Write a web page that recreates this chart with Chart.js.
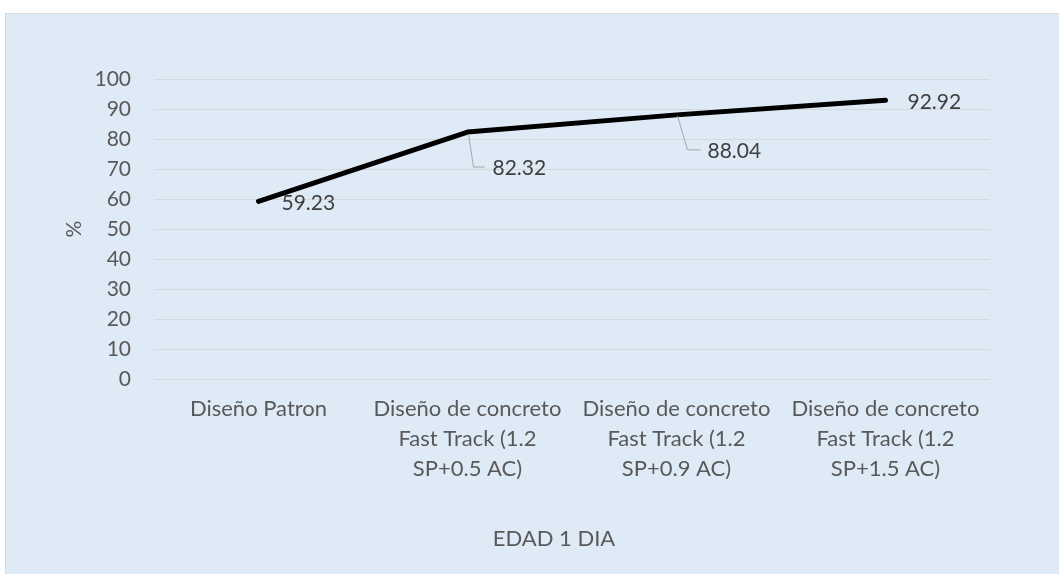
<!DOCTYPE html>
<html><head><meta charset="utf-8">
<script src="https://cdn.jsdelivr.net/npm/chart.js@4.4.1/dist/chart.umd.min.js"></script>
<style>html,body{margin:0;padding:0;background:#fff}#wrap{width:1059px;height:574px;position:relative}</style>
</head><body><div id="wrap"><canvas id="c" width="1059" height="574"></canvas></div>
<script>
const categories = [
  ["Diseño Patron"],
  ["Diseño de concreto", "Fast Track (1.2", "SP+0.5 AC)"],
  ["Diseño de concreto", "Fast Track (1.2", "SP+0.9 AC)"],
  ["Diseño de concreto", "Fast Track (1.2", "SP+1.5 AC)"]
];
const values = [59.23, 82.32, 88.04, 92.92];
const labelTexts = ["59.23", "82.32", "88.04", "92.92"];
const yTitle = "%";
const xTitle = "EDAD 1 DIA";

const FONT = "Lato, 'Open Sans', sans-serif";
const TXT = "#595959";
const FS = 21;
const FS_CAT = 22;

// label placement relative to the point: text left offset dx, center dy; leader polyline
const labelLayout = [
  {dx: 23, dy: 1.5},
  {dx: 25, dy: 36, leader: [[1, 2], [6, 35], [17, 35]]},
  {dx: 31, dy: 36, leader: [[1, 1], [11, 35], [24, 35]]},
  {dx: 22, dy: 1.5}
];

const bgPlugin = {
  id: 'bg',
  beforeDraw(chart) {
    const ctx = chart.ctx;
    ctx.save();
    ctx.fillStyle = '#ffffff';
    ctx.fillRect(0, 0, chart.width, chart.height);
    ctx.fillStyle = '#DEEAF6';
    ctx.fillRect(5, 13, chart.width - 5, chart.height - 13);
    ctx.strokeStyle = '#D9D9D9';
    ctx.lineWidth = 1;
    ctx.beginPath();
    ctx.moveTo(5.5, chart.height);
    ctx.lineTo(5.5, 13.5);
    ctx.lineTo(chart.width, 13.5);
    ctx.stroke();
    ctx.restore();
  }
};

const labelPlugin = {
  id: 'dlabels',
  afterDatasetsDraw(chart) {
    const ctx = chart.ctx;
    const meta = chart.getDatasetMeta(0);
    ctx.save();
    ctx.font = FS + "px " + FONT;
    ctx.fillStyle = "#404040";
    ctx.textBaseline = "middle";
    ctx.textAlign = "left";
    meta.data.forEach((pt, i) => {
      const L = labelLayout[i];
      if (L.leader) {
        ctx.strokeStyle = "#A6A6A6";
        ctx.lineWidth = 1;
        ctx.beginPath();
        L.leader.forEach((p, k) => {
          const x = pt.x + p[0], y = pt.y + p[1];
          if (k === 0) ctx.moveTo(x, y); else ctx.lineTo(x, y);
        });
        ctx.stroke();
      }
      ctx.fillText(labelTexts[i], pt.x + L.dx, pt.y + L.dy);
    });
    // x axis title
    ctx.font = FS_CAT + "px " + FONT;
    ctx.fillStyle = TXT;
    ctx.textAlign = "center";
    ctx.fillText(xTitle, 554, 539);
    ctx.restore();
  }
};

new Chart(document.getElementById('c'), {
  type: 'line',
  data: {
    labels: categories,
    datasets: [{
      data: values,
      borderColor: '#000000',
      borderWidth: 5,
      borderCapStyle: 'round',
      borderJoinStyle: 'round',
      pointRadius: 0,
      tension: 0,
      fill: false
    }]
  },
  options: {
    responsive: false,
    animation: false,
    events: [],
    layout: {padding: {left: 60, right: 69, top: 79, bottom: 24}},
    plugins: {legend: {display: false}, tooltip: {enabled: false}},
    scales: {
      x: {
        offset: true,
        grid: {display: false, drawTicks: false},
        border: {display: false},
        ticks: {color: TXT, font: {family: FONT, size: FS_CAT, lineHeight: 1.36}, padding: 15, maxRotation: 0, autoSkip: false},
        title: {display: false},
        afterFit(s) { s.height = 574 - 24 - 379; }
      },
      y: {
        min: 0, max: 100,
        grid: {color: '#D6D9DC', lineWidth: 1, drawTicks: false},
        border: {display: false},
        ticks: {stepSize: 10, color: TXT, font: {family: FONT, size: FS}, padding: 23},
        title: {display: true, text: yTitle, color: TXT, font: {family: FONT, size: FS}, padding: {top: 2, bottom: 0}},
        afterFit(s) { s.width = 154 - 60; }
      }
    }
  },
  plugins: [bgPlugin, labelPlugin]
});
</script></body></html>
